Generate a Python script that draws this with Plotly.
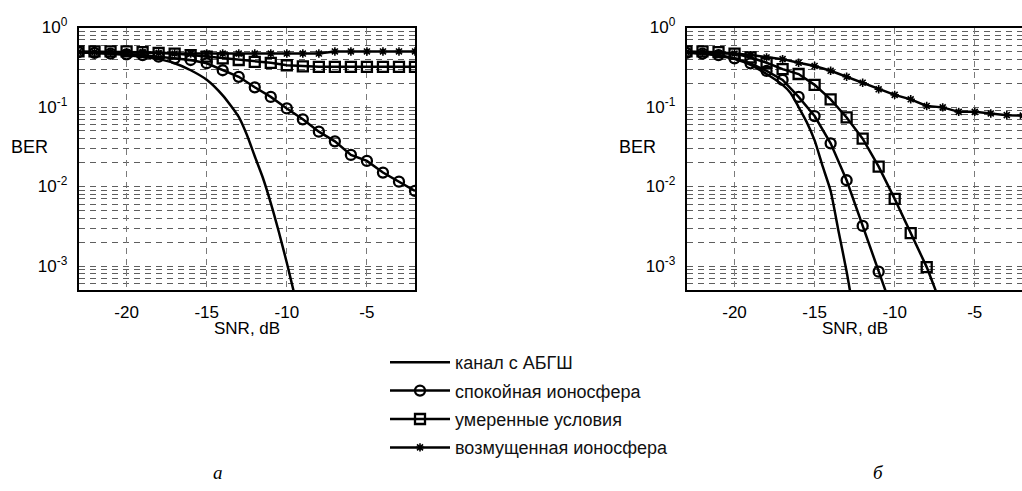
import plotly.graph_objects as go

# ---------------- data ----------------
# panel (а)
snr_a_awgn = [-23, -22, -21, -20, -19, -18, -17, -16, -15, -14, -13, -12.5, -12, -11.5, -11, -10.5, -10, -9.5]
ber_a_awgn = [0.49, 0.48, 0.47, 0.45, 0.43, 0.40, 0.355, 0.29, 0.22, 0.14, 0.075, 0.045, 0.024, 0.013, 0.0062, 0.0027, 0.0011, 0.00042]

snr_a = [-23, -22, -21, -20, -19, -18, -17, -16, -15, -14, -13, -12, -11, -10, -9, -8, -7, -6, -5, -4, -3, -2]
ber_a_quiet = [0.49, 0.48, 0.47, 0.46, 0.45, 0.43, 0.41, 0.39, 0.355, 0.29, 0.24, 0.177, 0.134, 0.096, 0.07, 0.049, 0.037, 0.025, 0.021, 0.015, 0.0115, 0.0088]
ber_a_moderate = [0.50, 0.50, 0.50, 0.50, 0.49, 0.48, 0.47, 0.45, 0.43, 0.41, 0.39, 0.37, 0.36, 0.335, 0.325, 0.32, 0.32, 0.32, 0.32, 0.32, 0.32, 0.32]
ber_a_disturbed = [0.49, 0.49, 0.49, 0.49, 0.49, 0.48, 0.47, 0.47, 0.47, 0.47, 0.47, 0.47, 0.47, 0.47, 0.47, 0.47, 0.50, 0.50, 0.50, 0.50, 0.50, 0.50]

# panel (б)
snr_b_awgn = [-23, -22, -21, -20, -19, -18, -17, -16.5, -16, -15.5, -15, -14.5, -14, -13.5, -13, -12.5]
ber_b_awgn = [0.49, 0.47, 0.44, 0.40, 0.34, 0.26, 0.19, 0.15, 0.10, 0.065, 0.038, 0.018, 0.0088, 0.0027, 0.00085, 0.00022]

snr_b_quiet = [-23, -22, -21, -20, -19, -18, -17, -16, -15, -14, -13, -12, -11, -10]
ber_b_quiet = [0.48, 0.47, 0.45, 0.41, 0.354, 0.284, 0.219, 0.134, 0.077, 0.035, 0.012, 0.0032, 0.00085, 0.00023]

snr_b_moderate = [-23, -22, -21, -20, -19, -18, -17, -16, -15, -14, -13, -12, -11, -10, -9, -8, -7]
ber_b_moderate = [0.50, 0.50, 0.49, 0.47, 0.42, 0.36, 0.30, 0.26, 0.19, 0.125, 0.074, 0.040, 0.0178, 0.0070, 0.0026, 0.00097, 0.00029]

snr_b_disturbed = [-23, -22, -21, -20, -19, -18, -17, -16, -15, -14, -13, -12, -11, -10, -9, -8, -7, -6, -5, -4, -3, -2]
ber_b_disturbed = [0.49, 0.49, 0.47, 0.47, 0.45, 0.42, 0.40, 0.36, 0.328, 0.286, 0.24, 0.202, 0.167, 0.142, 0.125, 0.103, 0.099, 0.087, 0.087, 0.083, 0.079, 0.078]

series_names = ["канал с АБГШ", "спокойная ионосфера", "умеренные условия", "возмущенная ионосфера"]
x_ticks = [-20, -15, -10, -5]
decades = [-3, -2, -1, 0]
panel_labels = ["а", "б"]

# ---------------- figure ----------------
W, H = 1022, 491
FONT = "Arial, Liberation Sans, sans-serif"
LW = 2.5

fig = go.Figure()


def add_panel(xa, ya, data, show):
    (xw, yw), (xq, yq), (xm, ym), (xd, yd) = data
    fig.add_trace(go.Scatter(x=xw, y=yw, mode="lines", name=series_names[0],
                             line=dict(color="black", width=LW, shape="spline", smoothing=0.6),
                             xaxis=xa, yaxis=ya, showlegend=show, legendgroup="g0"))
    fig.add_trace(go.Scatter(x=xq, y=yq, mode="lines+markers", name=series_names[1],
                             line=dict(color="black", width=LW),
                             marker=dict(symbol="circle-open", size=10, color="black", line=dict(width=2.3)),
                             xaxis=xa, yaxis=ya, showlegend=show, legendgroup="g1"))
    fig.add_trace(go.Scatter(x=xm, y=ym, mode="lines+markers", name=series_names[2],
                             line=dict(color="black", width=LW),
                             marker=dict(symbol="square-open", size=10, color="black", line=dict(width=2.3)),
                             xaxis=xa, yaxis=ya, showlegend=show, legendgroup="g2"))
    fig.add_trace(go.Scatter(x=xd, y=yd, mode="lines+markers", name=series_names[3],
                             line=dict(color="black", width=LW),
                             marker=dict(symbol="asterisk-open", size=7, color="black", line=dict(width=1.6)),
                             xaxis=xa, yaxis=ya, showlegend=show, legendgroup="g3"))


add_panel("x", "y", [(snr_a_awgn, ber_a_awgn), (snr_a, ber_a_quiet),
                     (snr_a, ber_a_moderate), (snr_a, ber_a_disturbed)], True)
add_panel("x2", "y2", [(snr_b_awgn, ber_b_awgn), (snr_b_quiet, ber_b_quiet),
                       (snr_b_moderate, ber_b_moderate), (snr_b_disturbed, ber_b_disturbed)], False)

# log grid: labelled decades plus minor lines at 2..9 x 10^k
major_vals = [10.0 ** k for k in decades]
major_text = [f"10<sup>{k}</sup>" for k in decades]
minor_vals = [m * 10.0 ** k for k in [-4] + decades[:-1] for m in range(2, 10) if m * 10.0 ** k >= 5e-4]

grid_dash = "6px,5px"
xaxis_style = dict(range=[-23, -2], tickvals=x_ticks, ticktext=[str(v) for v in x_ticks],
                   showgrid=True, gridcolor="#7a7a7a", griddash=grid_dash, gridwidth=1,
                   showline=True, linecolor="black", linewidth=1.5, mirror=True,
                   zeroline=False, ticks="", ticklabelstandoff=6, automargin=False,
                   tickfont=dict(family=FONT, size=17, color="black"))
yaxis_style = dict(type="log", range=[-3.30103, 0], tickvals=major_vals, ticktext=major_text,
                   showgrid=True, gridcolor="#5e5e5e", griddash=grid_dash, gridwidth=1,
                   minor=dict(tickmode="array", tickvals=minor_vals, showgrid=True,
                              gridcolor="#5e5e5e", griddash=grid_dash, gridwidth=1, ticks=""),
                   showline=True, linecolor="black", linewidth=1.5, mirror=True,
                   zeroline=False, ticks="", ticklabelstandoff=6, automargin=False,
                   tickfont=dict(family=FONT, size=17, color="black"))

y_dom = [(H - 290) / H, (H - 27.5) / H]
fig.update_layout(
    width=W, height=H, margin=dict(l=0, r=0, t=0, b=0, autoexpand=False),
    paper_bgcolor="white", plot_bgcolor="white",
    xaxis=dict(domain=[78.5 / W, 415 / W], anchor="y", **xaxis_style),
    yaxis=dict(domain=y_dom, anchor="x", **yaxis_style),
    xaxis2=dict(domain=[686.5 / W, 1.0], anchor="y2", **{**xaxis_style, "range": [-23, -2.05]}),
    yaxis2=dict(domain=y_dom, anchor="x2", **yaxis_style),
    legend=dict(x=385 / W, y=1 - 344 / H, xanchor="left", yanchor="top",
                font=dict(family=FONT, size=18, color="#111"),
                bgcolor="rgba(0,0,0,0)", borderwidth=0,
                itemwidth=60, tracegroupgap=2),
    showlegend=True,
)

ann = []
for cx in [29, 637]:
    ann.append(dict(text="BER", x=cx / W, y=1 - 147.5 / H))
for cx in [246.5, 854.5]:
    ann.append(dict(text="SNR, dB", x=cx / W, y=1 - 328 / H, font=dict(family=FONT, size=17, color="black")))
for cx, lab in zip([218, 878], panel_labels):
    ann.append(dict(text=f"<i>{lab}</i>", x=cx / W, y=1 - 472 / H,
                    font=dict(family="Liberation Serif, Times New Roman, serif", size=19, color="black")))
for a in ann:
    a.setdefault("font", dict(family=FONT, size=18, color="black"))
    a.update(xref="paper", yref="paper", xanchor="center", yanchor="middle", showarrow=False)
fig.update_layout(annotations=ann)

fig.write_html("out.html")
